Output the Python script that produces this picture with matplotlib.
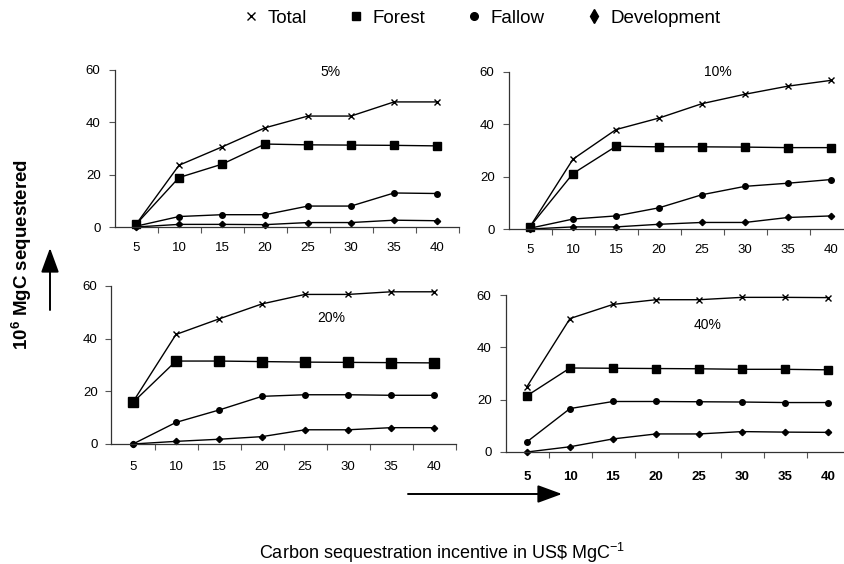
import numpy as np
import matplotlib.pyplot as plt
from matplotlib.lines import Line2D
from matplotlib.patches import FancyArrowPatch

plt.rcParams['font.family'] = ['Liberation Sans', 'DejaVu Sans']
plt.rcParams['mathtext.fontset'] = 'custom'
plt.rcParams['mathtext.rm'] = 'Liberation Sans'
plt.rcParams['mathtext.default'] = 'regular'

# incentive (US$ per MgC)
incentive = [5, 10, 15, 20, 25, 30, 35, 40]

# discount rate 5%
total_5 = [1.0, 23.6, 30.6, 37.9, 42.4, 42.4, 47.8, 47.8]
forest_5 = [1.0, 18.9, 24.0, 31.7, 31.4, 31.3, 31.2, 31.0]
fallow_5 = [0.3, 4.0, 4.7, 4.7, 8.0, 8.0, 13.0, 12.8]
devel_5 = [0.0, 1.0, 1.0, 0.9, 1.7, 1.7, 2.6, 2.4]

# 10%
total_10 = [0.9, 26.7, 38.0, 42.4, 47.9, 51.5, 54.6, 56.8]
forest_10 = [0.9, 21.2, 31.6, 31.4, 31.4, 31.3, 31.1, 31.1]
fallow_10 = [0.3, 3.8, 5.0, 8.1, 13.1, 16.3, 17.5, 18.9]
devel_10 = [0.0, 0.8, 0.8, 1.8, 2.5, 2.5, 4.4, 5.0]

# 20%
total_20 = [16.0, 41.6, 47.5, 53.2, 56.8, 56.8, 57.8, 57.8]
forest_20 = [15.8, 31.5, 31.5, 31.3, 31.1, 31.0, 30.9, 30.8]
fallow_20 = [0.0, 8.2, 12.9, 18.1, 18.7, 18.7, 18.5, 18.5]
devel_20 = [0.0, 1.0, 1.8, 2.8, 5.4, 5.4, 6.2, 6.2]

# 40%
total_40 = [25.0, 51.0, 56.4, 58.2, 58.2, 59.1, 59.1, 59.0]
forest_40 = [21.5, 32.1, 32.0, 31.9, 31.8, 31.6, 31.6, 31.4]
fallow_40 = [3.9, 16.6, 19.3, 19.3, 19.2, 19.1, 18.9, 18.9]
devel_40 = [0.0, 2.0, 5.0, 6.9, 6.9, 7.8, 7.6, 7.5]

W, H = 844, 564
fig = plt.figure(figsize=(W / 100, H / 100), dpi=100)

def axes_px(left, right, top, bottom):
    return fig.add_axes([left / W, 1 - bottom / H, (right - left) / W, (bottom - top) / H])

# label, series, (left, right, top, bottom) in pixels, label pos, xtick pad, square size
panels = [
    ('5%', (total_5, forest_5, fallow_5, devel_5), (114.5, 458.5, 70, 227), (0.627, 0.99), 10.5, 5.5),
    ('10%', (total_10, forest_10, fallow_10, devel_10), (508.5, 852.5, 72, 229), (0.609, 1.0), 10.5, 5.5),
    ('20%', (total_20, forest_20, fallow_20, devel_20), (111.5, 455.5, 286, 444), (0.638, 0.80), 12.5, 6.5),
    ('40%', (total_40, forest_40, fallow_40, devel_40), (505.5, 849.5, 295, 452), (0.586, 0.81), 14.0, 5.5),
]

for i, (lab, (tot, fo, fa, de), rect, lpos, xpad, sq) in enumerate(panels):
    ax = axes_px(*rect)
    ax.plot(incentive, tot, color='black', lw=1.0, marker='x', ms=5, mew=1.0, clip_on=False)
    ax.plot(incentive, fo, color='black', lw=1.0, marker='s', ms=sq, clip_on=False)
    ax.plot(incentive, fa, color='black', lw=1.0, marker='o', ms=4, clip_on=False)
    ax.plot(incentive, de, color='black', lw=1.0, marker='D', ms=3.2, clip_on=False)
    ax.set_xlim(2.5, 42.5)
    ax.set_ylim(0, 60)
    ax.set_yticks([0, 20, 40, 60])
    ax.set_xticks(incentive)
    ax.set_xticks(np.arange(7.5, 43, 5), minor=True)
    ax.tick_params(axis='x', which='major', length=0, pad=xpad, labelsize=9.5)
    ax.tick_params(axis='x', which='minor', length=4, width=0.8, color='#555555', direction='out')
    ax.tick_params(axis='y', length=4, width=0.8, color='#555555', pad=6, labelsize=9.5)
    if i == 3:
        for t in ax.get_xticklabels():
            t.set_fontweight('bold')
    for s in ('top', 'right'):
        ax.spines[s].set_visible(False)
    for s in ('left', 'bottom'):
        ax.spines[s].set_color('#333333')
        ax.spines[s].set_linewidth(0.9)
    ax.text(lpos[0], lpos[1], lab, transform=ax.transAxes, ha='center', va='center', fontsize=10)

# legend along the top
handles = [
    Line2D([], [], color='black', ls='none', marker='x', ms=6, mew=1.0),
    Line2D([], [], color='black', ls='none', marker='s', ms=6),
    Line2D([], [], color='black', ls='none', marker='o', ms=5.5),
    Line2D([], [], color='black', ls='none', marker='d', ms=7),
]
fig.legend(handles, ['Total', 'Forest', 'Fallow', 'Development'], loc='center',
           bbox_to_anchor=(482 / W, 1 - 18 / H), ncol=4, frameon=False,
           prop={'size': 13.5}, handlelength=0.8, handletextpad=0.5,
           columnspacing=2.2)

# axis captions and arrows
fig.text(22 / W, 1 - 254 / H, '10$^{6}$ MgC sequestered', rotation=90,
         ha='center', va='center', fontsize=13.5, fontweight='bold')
fig.text(442 / W, 1 - 553 / H, 'Carbon sequestration incentive in US\\$ MgC$^{-1}$',
         ha='center', va='center', fontsize=13)

arr_style = '-|>,head_length=1.5,head_width=0.55'
fig.add_artist(FancyArrowPatch((50 / W, 1 - 310 / H), (50 / W, 1 - 248 / H),
                               transform=fig.transFigure, arrowstyle=arr_style,
                               mutation_scale=10, color='black', lw=1.4,
                               shrinkA=0, shrinkB=0))
fig.add_artist(FancyArrowPatch((408 / W, 1 - 494 / H), (562 / W, 1 - 494 / H),
                               transform=fig.transFigure, arrowstyle=arr_style,
                               mutation_scale=10, color='black', lw=1.4,
                               shrinkA=0, shrinkB=0))

fig.savefig('out.png', dpi=100)
